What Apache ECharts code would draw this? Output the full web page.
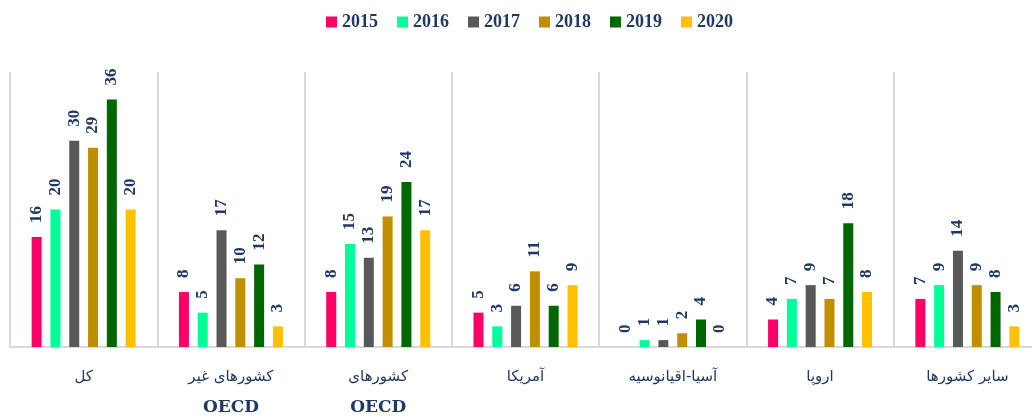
<!DOCTYPE html>
<html>
<head>
<meta charset="utf-8">
<script src="https://cdn.jsdelivr.net/npm/echarts@6/dist/echarts.min.js"></script>
<style>
  html, body { margin: 0; padding: 0; background: #fff; }
  #main { width: 1032px; height: 417px; }
</style>
</head>
<body>
<div id="main"></div>
<script>
const categories = ['کل', 'کشورهای غیر OECD', 'کشورهای OECD', 'آمریکا', 'آسیا-اقیانوسیه', 'اروپا', 'سایر کشورها'];
const years = ['2015', '2016', '2017', '2018', '2019', '2020'];
const colors = ['#ff0066', '#00ff99', '#595959', '#bf8f00', '#006600', '#ffc000'];

const v2015 = [16, 8, 8, 5, 0, 4, 7];
const v2016 = [20, 5, 15, 3, 1, 7, 9];
const v2017 = [30, 17, 13, 6, 1, 9, 14];
const v2018 = [29, 10, 19, 11, 2, 7, 9];
const v2019 = [36, 12, 24, 6, 4, 18, 8];
const v2020 = [20, 3, 17, 9, 0, 8, 3];
const values = [v2015, v2016, v2017, v2018, v2019, v2020];

const textColor = '#1f3864';

const chart = echarts.init(document.getElementById('main'), null, {renderer: 'canvas'});

chart.setOption({
	animation: false,
	legend: {
		top: 8,
		left: 321,
		itemWidth: 11,
		itemHeight: 11,
		itemGap: 19,
		icon: 'rect',
		textStyle: {
			color: textColor,
			fontFamily: 'Liberation Serif',
			fontWeight: 'bold',
			fontSize: 18
		},
		data: years
	},
	grid: {
		left: 10,
		width: 1031,
		top: 72,
		bottom: 70,
		outerBoundsMode: 'none'
	},
	xAxis: {
		type: 'category',
		data: categories,
		axisLine: {lineStyle: {color: '#d9d9d9', width: 2}},
		axisTick: {show: false},
		splitLine: {show: true, interval: 0, lineStyle: {color: '#d9d9d9', width: 2}},
		axisLabel: {
			interval: 0,
			margin: 15,
			formatter: value => {
				if (value.indexOf(' OECD') > -1) {
					return '{a|' + value.replace(' OECD', '') + '}\n{b|OECD}';
				}
				return '{a|' + value + '}';
			},
			rich: {
				a: {
					color: textColor,
					fontFamily: 'DejaVu Sans',
					fontSize: 15,
					lineHeight: 30
				},
				b: {
					color: textColor,
					fontFamily: 'DejaVu Serif',
					fontWeight: 'bold',
					fontSize: 17,
					lineHeight: 31
				}
			}
		}
	},
	yAxis: {
		type: 'value',
		min: 0,
		max: 40,
		show: false,
		splitLine: {show: false}
	},
	series: years.map((y, i) => ({
		name: y,
		type: 'bar',
		data: values[i],
		barWidth: 10,
		barGap: '88%',
		itemStyle: {color: colors[i]},
		label: {
			show: true,
			position: 'top',
			rotate: 90,
			align: 'left',
			verticalAlign: 'middle',
			distance: 14,
			color: textColor,
			fontFamily: 'Liberation Serif',
			fontWeight: 'bold',
			fontSize: 17
		}
	}))
});
</script>
</body>
</html>
